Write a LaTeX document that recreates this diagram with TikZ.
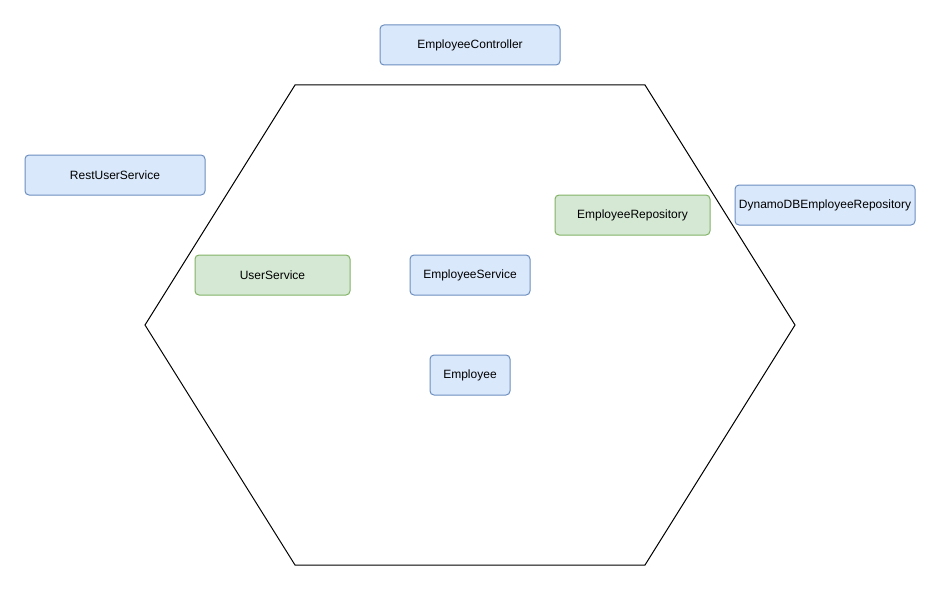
\documentclass[tikz,border=0pt]{standalone}
\usepackage{fontspec}
\setmainfont{Liberation Sans}
\definecolor{bluefill}{HTML}{DAE8FC}
\definecolor{bluedraw}{HTML}{6C8EBF}
\definecolor{greenfill}{HTML}{D5E8D4}
\definecolor{greendraw}{HTML}{82B366}
\begin{document}
\begin{tikzpicture}[x=1pt,y=-1pt,line width=1pt]
\tikzstyle{bluebox}=[rectangle,rounded corners=4pt,draw=bluedraw,fill=bluefill,inner sep=0pt,minimum height=40pt,font=\fontsize{12}{14}\selectfont]
\tikzstyle{greenbox}=[rectangle,rounded corners=4pt,draw=greendraw,fill=greenfill,inner sep=0pt,minimum height=40pt,font=\fontsize{12}{14}\selectfont]

\useasboundingbox (0,0) rectangle (941,591);

% hexagon
\draw (295,85) -- (645,85) -- (795,325) -- (645,565) -- (295,565) -- (145,325) -- cycle;

\node[bluebox,minimum width=180pt] (controller) at (470,45) {EmployeeController};
\node[bluebox,minimum width=180pt] (restuser) at (115,175) {RestUserService};
\node[bluebox,minimum width=180pt] (dynamo) at (825,205) {DynamoDBEmployeeRepository};

\node[greenbox,minimum width=155pt] (repository) at (632.5,215) {EmployeeRepository};
\node[greenbox,minimum width=155pt] (userservice) at (272.5,275) {UserService};

\node[bluebox,minimum width=120pt] (service) at (470,275) {EmployeeService};
\node[bluebox,minimum width=80pt] (employee) at (470,375) {Employee};

\end{tikzpicture}
\end{document}
